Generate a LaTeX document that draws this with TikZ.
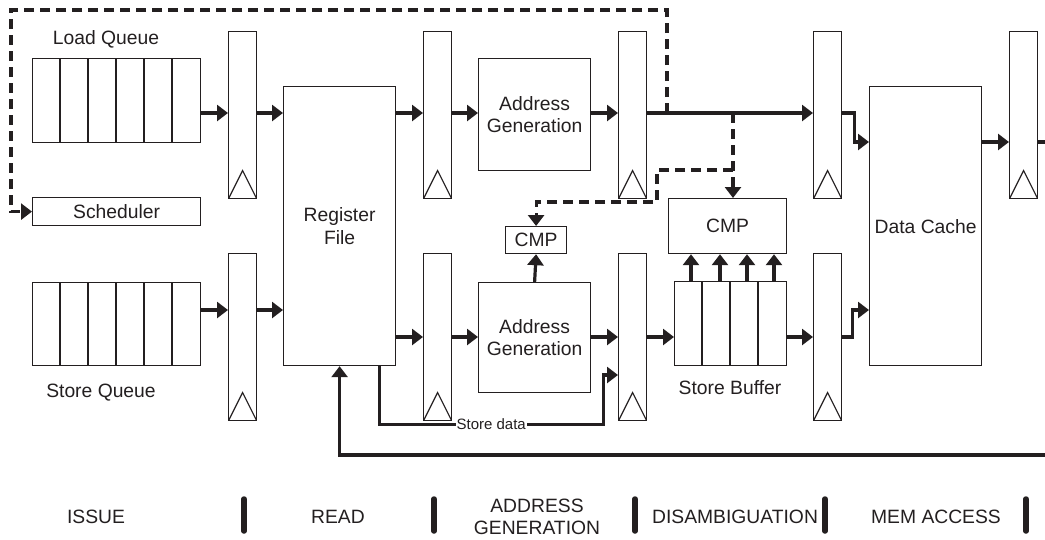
\documentclass[tikz,border=0pt]{standalone}
\usepackage{fontspec}
\setmainfont{Liberation Sans}
\usetikzlibrary{arrows.meta}
\definecolor{ink}{RGB}{35,31,32}

\begin{document}
\begin{tikzpicture}[x=1pt,y=-1pt,
 lbl/.style={text=ink,inner sep=0pt,align=center,font=\fontsize{19.3}{22.5}\selectfont},
 unit/.style={lbl,draw=ink,line width=1.2pt,anchor=north west},
 latch/.style={unit,minimum width=28pt,minimum height=167pt,path picture={\draw[ink,line width=1.2pt] (path picture bounding box.south west) -- ([yshift=28pt]path picture bounding box.south) -- (path picture bounding box.south east);}},
 cell/.style={draw=ink,line width=1.2pt},
 bus/.style={draw=ink,line width=3.2pt,-{Triangle[length=11pt,width=16pt]}},
 wire/.style={draw=ink,line width=3.2pt},
 ctrl/.style={draw=ink,line width=3.2pt,dash pattern=on 10pt off 6pt,-{Triangle[length=11pt,width=16pt]}},
 sep/.style={draw=ink,line width=5.5pt,line cap=round},
 sdlabel/.style={text=ink,fill=white,inner sep=1pt,font=\fontsize{15}{17}\selectfont}]
\useasboundingbox (0,0) rectangle (1045,539);
% queues and scheduler
\node[unit,minimum width=168pt,minimum height=84pt] (lq) at (32,58) {};
\node[lbl] (lqtext) at (106,39) {Load Queue};
\node[unit,minimum width=168pt,minimum height=28pt] (sched) at (32,197) {Scheduler};
\node[unit,minimum width=168pt,minimum height=83pt] (sq) at (32,282) {};
\node[lbl] (sqtext) at (101,393) {Store Queue};
\foreach \i in {1,...,5} {
 \draw[cell] ([xshift=\i*28pt]lq.north west) -- ([xshift=\i*28pt]lq.south west);
 \draw[cell] ([xshift=\i*28pt]sq.north west) -- ([xshift=\i*28pt]sq.south west);
}
% pipeline latches
\node[latch] (la1) at (228,31) {};
\node[latch] (lb1) at (228,253) {};
\node[latch] (la2) at (423,31) {};
\node[latch] (lb2) at (423,253) {};
\node[latch] (la3) at (618,31) {};
\node[latch] (lb3) at (618,253) {};
\node[latch] (la4) at (813,31) {};
\node[latch] (lb4) at (813,253) {};
\node[latch] (la5) at (1009,31) {};
% units
\node[unit,minimum width=112pt,minimum height=279pt] (rf) at (283,86) {Register\\File};
\node[unit,minimum width=112pt,minimum height=112pt] (aga) at (478,58) {Address\\Generation};
\node[unit,minimum width=112pt,minimum height=110pt] (agb) at (478,282) {Address\\Generation};
\node[unit,minimum width=61pt,minimum height=27pt] (cmpa) at (505,226) {CMP};
\node[unit,minimum width=118pt,minimum height=55pt] (cmpb) at (668,198) {CMP};
\node[unit,minimum width=112pt,minimum height=84pt] (sb) at (674,281) {};
\node[lbl] (sbtext) at (730,388) {Store Buffer};
\foreach \i in {1,2,3}
 \draw[cell] ([xshift=\i*28pt]sb.north west) -- ([xshift=\i*28pt]sb.south west);
\node[unit,minimum width=112pt,minimum height=279pt] (dc) at (869,86) {Data Cache};
% rows
\coordinate (rowa) at (0,113);
\coordinate (rowd) at (0,142);
\coordinate (rowb) at (0,310);
\coordinate (rowc) at (0,337);
\coordinate (sdrow) at (0,375);
\coordinate (outr) at (1045,142);
\coordinate (fbr) at (1045,455);
% load path
\draw[bus] (lq.east |- rowa) -- (la1.west |- rowa);
\draw[bus] (la1.east |- rowa) -- (rf.west |- rowa);
\draw[bus] (rf.east |- rowa) -- (la2.west |- rowa);
\draw[bus] (la2.east |- rowa) -- (aga.west |- rowa);
\draw[bus] (aga.east |- rowa) -- (la3.west |- rowa);
\draw[bus] (la3.east |- rowa) -- (la4.west |- rowa);
\draw[bus] (la4.east |- rowa) -- ++(12,0) |- (dc.west |- rowd);
\draw[bus] (dc.east |- rowd) -- (la5.west |- rowd);
\draw[wire] (la5.east |- rowd) -- (outr);
% store path
\draw[bus] (sq.east |- rowb) -- (lb1.west |- rowb);
\draw[bus] (lb1.east |- rowb) -- (rf.west |- rowb);
\draw[bus] (rf.east |- rowc) -- (lb2.west |- rowc);
\draw[bus] (lb2.east |- rowc) -- (agb.west |- rowc);
\draw[bus] (agb.east |- rowc) -- (lb3.west |- rowc);
\draw[bus] (lb3.east |- rowc) -- (sb.west |- rowc);
\draw[bus] (sb.east |- rowc) -- (lb4.west |- rowc);
\draw[bus] (lb4.east |- rowc) -- ++(10,0) |- (dc.west |- rowb);
\draw[bus] ([xshift=-17pt]rf.south east) -- ++(0,58) -- node[sdlabel] {Store data} ++(224,0) |- (lb3.west |- sdrow);
\draw[bus] (fbr) -| (rf.south);
% compare
\draw[bus] (agb.north) -- (cmpa.south);
\foreach \dx in {17,46,73,100}
 \draw[bus] ([xshift=\dx pt]sb.north west) -- ([xshift=\dx pt]sb.north west |- cmpb.south);
% dashed control
\coordinate (ctrltap) at (667,113);
\coordinate (ctrltop) at (667,10);
\coordinate (ctrlcorner) at (11,10);
\coordinate (cmptap) at (733,113);
\coordinate (cmpsplit) at (733,170);
\draw[ctrl] (ctrltap) -- (ctrltop) -- (ctrlcorner) |- (sched.west);
\draw[ctrl] (cmptap) -- (cmptap |- cmpb.north);
\draw[ctrl] (cmpsplit) -- ++(-76,0) -- ++(0,32) -| (cmpa.north);
% stages
\node[lbl] (issue) at (96,517) {ISSUE};
\node[lbl] (read) at (338,517) {READ};
\node[lbl] (agen) at (537,517) {ADDRESS\\GENERATION};
\node[lbl] (disamb) at (735,517) {DISAMBIGUATION};
\node[lbl] (mem) at (936,517) {MEM ACCESS};
\draw[sep] (244,499) -- (244,531);
\draw[sep] (434,499) -- (434,531);
\draw[sep] (635,499) -- (635,531);
\draw[sep] (825,499) -- (825,531);
\draw[sep] (1026,499) -- (1026,531);
\end{tikzpicture}
\end{document}
